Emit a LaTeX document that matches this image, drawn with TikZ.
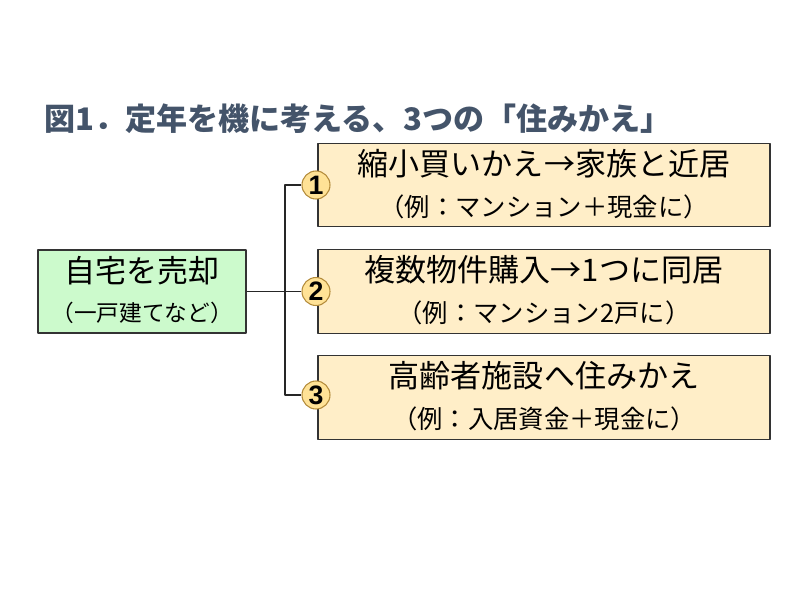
\documentclass[tikz,border=0pt]{standalone}
\usepackage{fontspec}
\setmainfont{Noto Sans CJK JP}
\newfontfamily\numfont{Liberation Sans}
\usetikzlibrary{positioning}
\definecolor{titlecol}{RGB}{68,84,106}
\definecolor{greenbox}{RGB}{204,250,204}
\definecolor{orangebox}{RGB}{255,238,200}
\definecolor{numfill}{RGB}{255,226,150}
\definecolor{numline}{RGB}{180,140,60}
\tikzset{
  box/.style={draw=black!80, line width=0.9pt, inner sep=0pt},
  maintext/.style={font=\fontsize{23.3}{26}\selectfont, inner sep=0pt},
  subtext/.style={font=\fontsize{19}{22}\selectfont, inner sep=0pt},
  numcircle/.style={circle, draw=numline, fill=numfill, line width=0.8pt, minimum size=21pt, inner sep=0pt, font=\numfont\bfseries\fontsize{20}{20}\selectfont}
}
\begin{document}
\begin{tikzpicture}[x=0.75pt, y=-0.75pt, line join=round]
  \useasboundingbox (0,0) rectangle (800,600);
  \def\xbox{544} \def\xnum{316} \def\xjoin{285} % positions
  % title
  \node[anchor=base west, inner sep=0pt, text=titlecol, font=\bfseries\fontsize{23.3}{26}\selectfont] (title) at (44,130) {図1．定年を機に考える、3つの「住みかえ」};
  % left box
  \node[box, fill=greenbox, minimum width=156pt, minimum height=62.25pt] (home) at (142,291.5) {};
  \node[maintext] (homemain) at (142,271) {自宅を売却};
  \node[subtext, font=\fontsize{17}{20}\selectfont] (homesub) at (142,313) {（一戸建てなど）};
  % three options
  \foreach \i/\y/\main/\sub in {1/185/縮小買いかえ→家族と近居/（例：マンション＋現金に）,
      2/291.5/複数物件購入→1つに同居/（例：マンション2戸に）,
      3/397.5/高齢者施設へ住みかえ/（例：入居資金＋現金に）}{
    \node[box, fill=orangebox, minimum width=339pt, minimum height=62.5pt] (opt\i) at (\xbox,\y) {};
    \node[maintext] (main\i) at (\xbox,\y-21.5) {\main};
    \node[subtext] (sub\i) at (\xbox,\y+21.5) {\sub};
  }
  \foreach \i/\y in {1/185,2/291.5,3/395}
    \node[numcircle] (num\i) at (\xnum,\y) {\i};
  % connectors
  \coordinate (join) at (\xjoin,291.5);
  \draw[black!85, line width=0.8pt] (num1.west) -| (join) |- (num3.west);
  \draw[black!85, line width=0.8pt] (home.east) -- (num2.west);
\end{tikzpicture}
\end{document}
